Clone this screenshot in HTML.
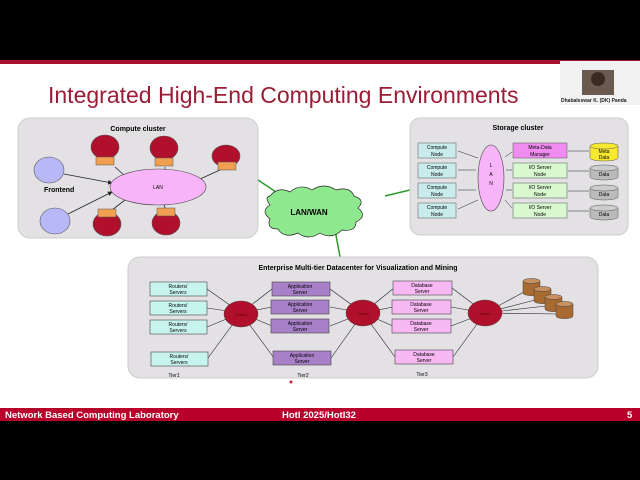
<!DOCTYPE html>
<html><head><meta charset="utf-8"><style>
html,body{margin:0;padding:0;background:#000;width:640px;height:480px;overflow:hidden}
svg{display:block;font-family:"Liberation Sans",sans-serif}
</style></head><body>
<svg width="640" height="480" viewBox="0 0 640 480">
<defs>
<marker id="a" markerWidth="6" markerHeight="6" refX="5" refY="3" orient="auto"><path d="M0,0L6,3L0,6z" fill="#222"/></marker>
<marker id="b" markerWidth="6" markerHeight="6" refX="1" refY="3" orient="auto"><path d="M6,0L0,3L6,6z" fill="#222"/></marker>
</defs>
<rect x="0" y="0" width="640" height="480" fill="#000"/>
<rect x="0" y="60" width="640" height="348" fill="#fff"/>
<rect x="0" y="60" width="640" height="4" fill="#a8102c"/>
<rect x="0" y="408" width="640" height="13" fill="#b8002a"/>
<text x="5" y="418" font-size="9.5" font-weight="bold" fill="#fff">Network Based Computing Laboratory</text>
<text x="282" y="418" font-size="9.5" font-weight="bold" fill="#fff">HotI 2025/HotI32</text>
<text x="627" y="418" font-size="9.5" font-weight="bold" fill="#fff">5</text>
<!-- webcam -->
<rect x="560" y="61" width="80" height="44" fill="#f2f2f2"/>
<rect x="582" y="70" width="32" height="25" fill="#6a5a50"/>
<circle cx="598" cy="79" r="7" fill="#3a2a22"/>
<text x="561" y="102" font-size="5" font-weight="bold" fill="#222">Dhabaleswar K. (DK) Panda</text>
<text x="48" y="103" font-size="23" fill="#9b1c34">Integrated High-End Computing Environments</text>
<!-- compute cluster -->
<rect x="18" y="118" width="240" height="120" rx="12" fill="#e3e1e4" stroke="#ccc"/>
<text x="138" y="131" font-size="7" font-weight="bold" text-anchor="middle">Compute cluster</text>
<g stroke="#222" stroke-width="0.8">
<line x1="64" y1="174" x2="112" y2="183" marker-end="url(#a)"/>
<line x1="68" y1="214" x2="112" y2="192" marker-end="url(#a)"/>
<line x1="115" y1="167" x2="125" y2="176"/>
<line x1="165" y1="167" x2="165" y2="170"/>
<line x1="222" y1="169" x2="198" y2="180"/>
<line x1="112" y1="210" x2="125" y2="200"/>
<line x1="166" y1="210" x2="164" y2="205"/>
</g>
<ellipse cx="158" cy="187" rx="48" ry="18" fill="#f8b4f8" stroke="#444" stroke-width="0.6"/>
<text x="158" y="189" font-size="5" text-anchor="middle">LAN</text>
<ellipse cx="49" cy="170" rx="15" ry="13" fill="#b8b8f8" stroke="#555" stroke-width="0.6"/>
<ellipse cx="55" cy="221" rx="15" ry="13" fill="#b8b8f8" stroke="#555" stroke-width="0.6"/>
<text x="44" y="192" font-size="7" font-weight="bold">Frontend</text>
<g fill="#b0102c" stroke="#555" stroke-width="0.6">
<ellipse cx="105" cy="147" rx="14" ry="12"/><ellipse cx="164" cy="148" rx="14" ry="12"/><ellipse cx="226" cy="156" rx="14" ry="11"/>
<ellipse cx="107" cy="224" rx="14" ry="12"/><ellipse cx="166" cy="223" rx="14" ry="12"/>
</g>
<g fill="#f0a050" stroke="#555" stroke-width="0.5">
<rect x="96" y="157" width="18" height="8"/><rect x="155" y="158" width="18" height="8"/><rect x="218" y="162" width="18" height="8"/>
<rect x="98" y="209" width="18" height="8"/><rect x="157" y="208" width="18" height="8"/>
</g>
<!-- green lines -->
<g stroke="#2a9a2a" stroke-width="1.5">
<line x1="258" y1="180" x2="282" y2="196"/><line x1="385" y1="196" x2="410" y2="190"/><line x1="335" y1="230" x2="341" y2="262"/>
</g>
<path d="M270,196 q8,-10 20,-4 q10,-9 22,-2 q12,-8 24,0 q14,-4 18,6 q12,4 4,12 q10,8 -2,14 q0,10 -14,8 q-10,10 -22,3 q-12,8 -22,0 q-14,6 -20,-4 q-12,0 -8,-10 q-10,-8 0,-14 q-6,-8 0,-9z" fill="#8ee88e" stroke="#222" stroke-width="0.7"/>
<text x="309" y="215" font-size="8" font-weight="bold" text-anchor="middle">LAN/WAN</text>
<!-- storage cluster -->
<rect x="410" y="118" width="218" height="117" rx="10" fill="#e3e1e4" stroke="#ccc"/>
<text x="518" y="130" font-size="7" font-weight="bold" text-anchor="middle">Storage cluster</text>
<g font-size="5" text-anchor="middle">
<g fill="#c8ecec" stroke="#555" stroke-width="0.5">
<rect x="418" y="143" width="38" height="15"/><rect x="418" y="163" width="38" height="15"/><rect x="418" y="183" width="38" height="15"/><rect x="418" y="203" width="38" height="15"/>
</g>
<text x="437" y="149">Compute</text><text x="437" y="156">Node</text>
<text x="437" y="169">Compute</text><text x="437" y="176">Node</text>
<text x="437" y="189">Compute</text><text x="437" y="196">Node</text>
<text x="437" y="209">Compute</text><text x="437" y="216">Node</text>
<ellipse cx="491" cy="178" rx="13" ry="33" fill="#f8b4f8" stroke="#444" stroke-width="0.6"/>
<text x="491" y="167">L</text><text x="491" y="176">A</text><text x="491" y="185">N</text>
<rect x="513" y="143" width="54" height="15" fill="#f08cf0" stroke="#555" stroke-width="0.5"/>
<g fill="#d8f8d0" stroke="#555" stroke-width="0.5">
<rect x="513" y="163" width="54" height="15"/><rect x="513" y="183" width="54" height="15"/><rect x="513" y="203" width="54" height="15"/>
</g>
<text x="540" y="149">Meta-Data</text><text x="540" y="156">Manager</text>
<text x="540" y="169">I/O Server</text><text x="540" y="176">Node</text>
<text x="540" y="189">I/O Server</text><text x="540" y="196">Node</text>
<text x="540" y="209">I/O Server</text><text x="540" y="216">Node</text>
<g stroke="#555" stroke-width="0.5">
<path d="M590,146 v12 a14,3 0 0 0 28,0 v-12" fill="#f8e830"/><ellipse cx="604" cy="146" rx="14" ry="3" fill="#f8e830"/>
<path d="M590,168 v9 a14,3 0 0 0 28,0 v-9" fill="#bbb"/><ellipse cx="604" cy="168" rx="14" ry="3" fill="#ccc"/>
<path d="M590,188 v9 a14,3 0 0 0 28,0 v-9" fill="#bbb"/><ellipse cx="604" cy="188" rx="14" ry="3" fill="#ccc"/>
<path d="M590,208 v9 a14,3 0 0 0 28,0 v-9" fill="#bbb"/><ellipse cx="604" cy="208" rx="14" ry="3" fill="#ccc"/>
</g>
<text x="604" y="153">Meta</text><text x="604" y="159">Data</text>
<text x="604" y="176">Data</text><text x="604" y="196">Data</text><text x="604" y="216">Data</text>
</g>
<g stroke="#222" stroke-width="0.5">
<line x1="458" y1="151" x2="478" y2="158"/><line x1="458" y1="170" x2="476" y2="170"/><line x1="458" y1="190" x2="476" y2="190"/><line x1="458" y1="209" x2="478" y2="200"/>
<line x1="505" y1="157" x2="512" y2="152"/><line x1="506" y1="170" x2="512" y2="170"/><line x1="506" y1="190" x2="512" y2="190"/><line x1="505" y1="200" x2="512" y2="208"/>
<line x1="568" y1="151" x2="589" y2="151"/><line x1="568" y1="171" x2="589" y2="171"/><line x1="568" y1="191" x2="589" y2="191"/><line x1="568" y1="211" x2="589" y2="211"/>
</g>
<!-- datacenter -->
<rect x="128" y="257" width="470" height="121" rx="12" fill="#e3e1e4" stroke="#ccc"/>
<text x="358" y="270" font-size="7" font-weight="bold" text-anchor="middle">Enterprise Multi-tier Datacenter for Visualization and Mining</text>
<g stroke="#222" stroke-width="0.6">
<line x1="207" y1="289" x2="241" y2="313"/><line x1="207" y1="308" x2="241" y2="313"/><line x1="207" y1="327" x2="241" y2="313"/><line x1="208" y1="358" x2="241" y2="313"/>
<line x1="272" y1="289" x2="241" y2="313"/><line x1="272" y1="307" x2="241" y2="313"/><line x1="272" y1="326" x2="241" y2="313"/><line x1="274" y1="358" x2="241" y2="313"/>
<line x1="330" y1="289" x2="363" y2="313"/><line x1="330" y1="307" x2="363" y2="313"/><line x1="330" y1="326" x2="363" y2="313"/><line x1="331" y1="358" x2="363" y2="313"/>
<line x1="394" y1="288" x2="363" y2="313"/><line x1="393" y1="307" x2="363" y2="313"/><line x1="393" y1="326" x2="363" y2="313"/><line x1="395" y1="357" x2="363" y2="313"/>
<line x1="452" y1="288" x2="485" y2="313"/><line x1="451" y1="307" x2="485" y2="313"/><line x1="451" y1="326" x2="485" y2="313"/><line x1="453" y1="357" x2="485" y2="313"/>
<line x1="485" y1="313" x2="524" y2="292"/><line x1="485" y1="313" x2="535" y2="300"/><line x1="485" y1="313" x2="546" y2="306"/><line x1="485" y1="313" x2="557" y2="314"/>
</g>
<g font-size="5" text-anchor="middle">
<g fill="#c8f4ee" stroke="#444" stroke-width="0.6">
<rect x="150" y="282" width="57" height="14"/><rect x="150" y="301" width="57" height="14"/><rect x="150" y="320" width="57" height="14"/><rect x="151" y="352" width="57" height="14"/>
</g>
<text x="178" y="288">Routers/</text><text x="178" y="294">Servers</text>
<text x="178" y="307">Routers/</text><text x="178" y="313">Servers</text>
<text x="178" y="326">Routers/</text><text x="178" y="332">Servers</text>
<text x="179" y="358">Routers/</text><text x="179" y="364">Servers</text>
<g fill="#a880c8" stroke="#444" stroke-width="0.6">
<rect x="272" y="282" width="58" height="14"/><rect x="271" y="300" width="58" height="14"/><rect x="271" y="319" width="58" height="14"/><rect x="273" y="351" width="58" height="14"/>
</g>
<text x="300" y="288">Application</text><text x="300" y="294">Server</text>
<text x="300" y="306">Application</text><text x="300" y="312">Server</text>
<text x="300" y="325">Application</text><text x="300" y="331">Server</text>
<text x="302" y="357">Application</text><text x="302" y="363">Server</text>
<g fill="#f8b8f4" stroke="#444" stroke-width="0.6">
<rect x="393" y="281" width="59" height="14"/><rect x="392" y="300" width="59" height="14"/><rect x="392" y="319" width="59" height="14"/><rect x="395" y="350" width="58" height="14"/>
</g>
<text x="422" y="287">Database</text><text x="422" y="293">Server</text>
<text x="421" y="306">Database</text><text x="421" y="312">Server</text>
<text x="421" y="325">Database</text><text x="421" y="331">Server</text>
<text x="424" y="356">Database</text><text x="424" y="362">Server</text>
<g fill="#b0102c" stroke="#444" stroke-width="0.5">
<ellipse cx="241" cy="314" rx="17" ry="13"/><ellipse cx="363" cy="313" rx="17" ry="13"/><ellipse cx="485" cy="313" rx="17" ry="13"/>
</g>
<text x="241" y="316" fill="#600" font-size="4">Switch</text><text x="363" y="315" fill="#600" font-size="4">Switch</text><text x="485" y="315" fill="#600" font-size="4">Switch</text>
<g stroke="#444" stroke-width="0.5" fill="#a86a30">
<path d="M523,281 v12 a8,2.5 0 0 0 17,0 v-12z"/><ellipse cx="531.5" cy="281" rx="8.5" ry="2.5" fill="#c89060"/>
<path d="M534,289 v12 a8,2.5 0 0 0 17,0 v-12z"/><ellipse cx="542.5" cy="289" rx="8.5" ry="2.5" fill="#c89060"/>
<path d="M545,297 v12 a8,2.5 0 0 0 17,0 v-12z"/><ellipse cx="553.5" cy="297" rx="8.5" ry="2.5" fill="#c89060"/>
<path d="M556,304 v12 a8,2.5 0 0 0 17,0 v-12z"/><ellipse cx="564.5" cy="304" rx="8.5" ry="2.5" fill="#c89060"/>
</g>
<text x="174" y="377">Tier1</text><text x="303" y="377">Tier2</text><text x="422" y="376">Tier3</text>
</g>
<circle cx="291" cy="382" r="1.5" fill="#d02040"/>
</svg>
</body></html>
